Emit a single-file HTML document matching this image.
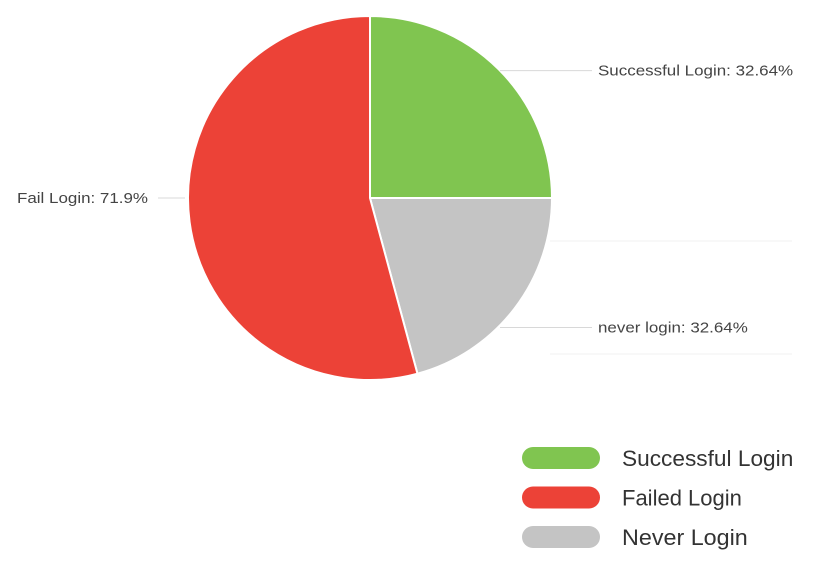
<!DOCTYPE html>
<html><head><meta charset="utf-8"><style>
body{margin:0;background:#fff;font-family:"Liberation Sans",sans-serif;}
</style></head><body>
<svg width="819" height="582" xmlns="http://www.w3.org/2000/svg">
<line x1="550" y1="241" x2="792" y2="241" stroke="#f2f2f2"/>
<line x1="550" y1="354" x2="792" y2="354" stroke="#f2f2f2"/>
<g id="pie"></g>
<g id="legend"></g>
</svg>
<script>
const categories=["Successful Login","never login","Fail Login"];
const values=[25,20.8,54.2];
const labelValues=[32.64,32.64,71.9];
const colors=["#80c550","#c4c4c4","#ec4237"];
const legendLabels=["Successful Login","Failed Login","Never Login"];
const legendColors=["#80c550","#ec4237","#c4c4c4"];
const ns="http://www.w3.org/2000/svg";
const cx=370,cy=198,r=182;
const pie=document.getElementById('pie');
const total=values.reduce((a,b)=>a+b,0);
let a0=0;
function pt(a,rr){return [cx+rr*Math.sin(a),cy-rr*Math.cos(a)];}
values.forEach((v,i)=>{
  const a1=a0+v/total*2*Math.PI;
  const p0=pt(a0,r),p1=pt(a1,r);
  const large=(a1-a0)>Math.PI?1:0;
  const path=document.createElementNS(ns,'path');
  path.setAttribute('d',`M${cx},${cy}L${p0[0]},${p0[1]}A${r},${r} 0 ${large} 1 ${p1[0]},${p1[1]}Z`);
  path.setAttribute('fill',colors[i]);
  path.setAttribute('stroke','#fff');
  path.setAttribute('stroke-width','2');
  
  
  pie.appendChild(path);
  const mid=(a0+a1)/2;
  const right=Math.sin(mid)>=0;
  const c=Math.cos(mid);
  const ly=right?cy-r*c*(c<0?1.17:0.99):cy;
  const line=document.createElementNS(ns,'line');
  line.setAttribute('x1',right?500:158);line.setAttribute('y1',ly);
  line.setAttribute('x2',right?592:185);line.setAttribute('y2',ly);
  line.setAttribute('stroke','#d8d8d8');
  
  
  pie.appendChild(line);
  const t=document.createElementNS(ns,'text');
  t.setAttribute('x',right?598:148);t.setAttribute('y',ly+5);
  t.setAttribute('text-anchor',right?'start':'end');
  t.setAttribute('font-size','15');t.setAttribute('fill','#444');
  t.textContent=categories[i]+': '+labelValues[i]+'%';
  
  
  pie.appendChild(t);
  const w=t.getComputedTextLength();
  t.setAttribute('textLength',(w*1.13).toFixed(1));
  t.setAttribute('lengthAdjust','spacingAndGlyphs');
  a0=a1;
});
const lg=document.getElementById('legend');
const legendWidthFactor=[1.03,1.0,1.06];
legendLabels.forEach((l,i)=>{
  const y=458+i*39.5;
  const rc=document.createElementNS(ns,'rect');
  rc.setAttribute('x',522);rc.setAttribute('y',y-11);rc.setAttribute('width',78);rc.setAttribute('height',22);
  rc.setAttribute('rx',11);rc.setAttribute('fill',legendColors[i]);
  
  
  lg.appendChild(rc);
  const t=document.createElementNS(ns,'text');
  t.setAttribute('x',622);t.setAttribute('y',y+8);
  t.setAttribute('font-size','22');t.setAttribute('fill','#333');
  t.textContent=l;
  
  
  lg.appendChild(t);
  const w=t.getComputedTextLength();
  t.setAttribute('textLength',(w*legendWidthFactor[i]).toFixed(1));
  t.setAttribute('lengthAdjust','spacingAndGlyphs');
});
</script>
</body></html>
